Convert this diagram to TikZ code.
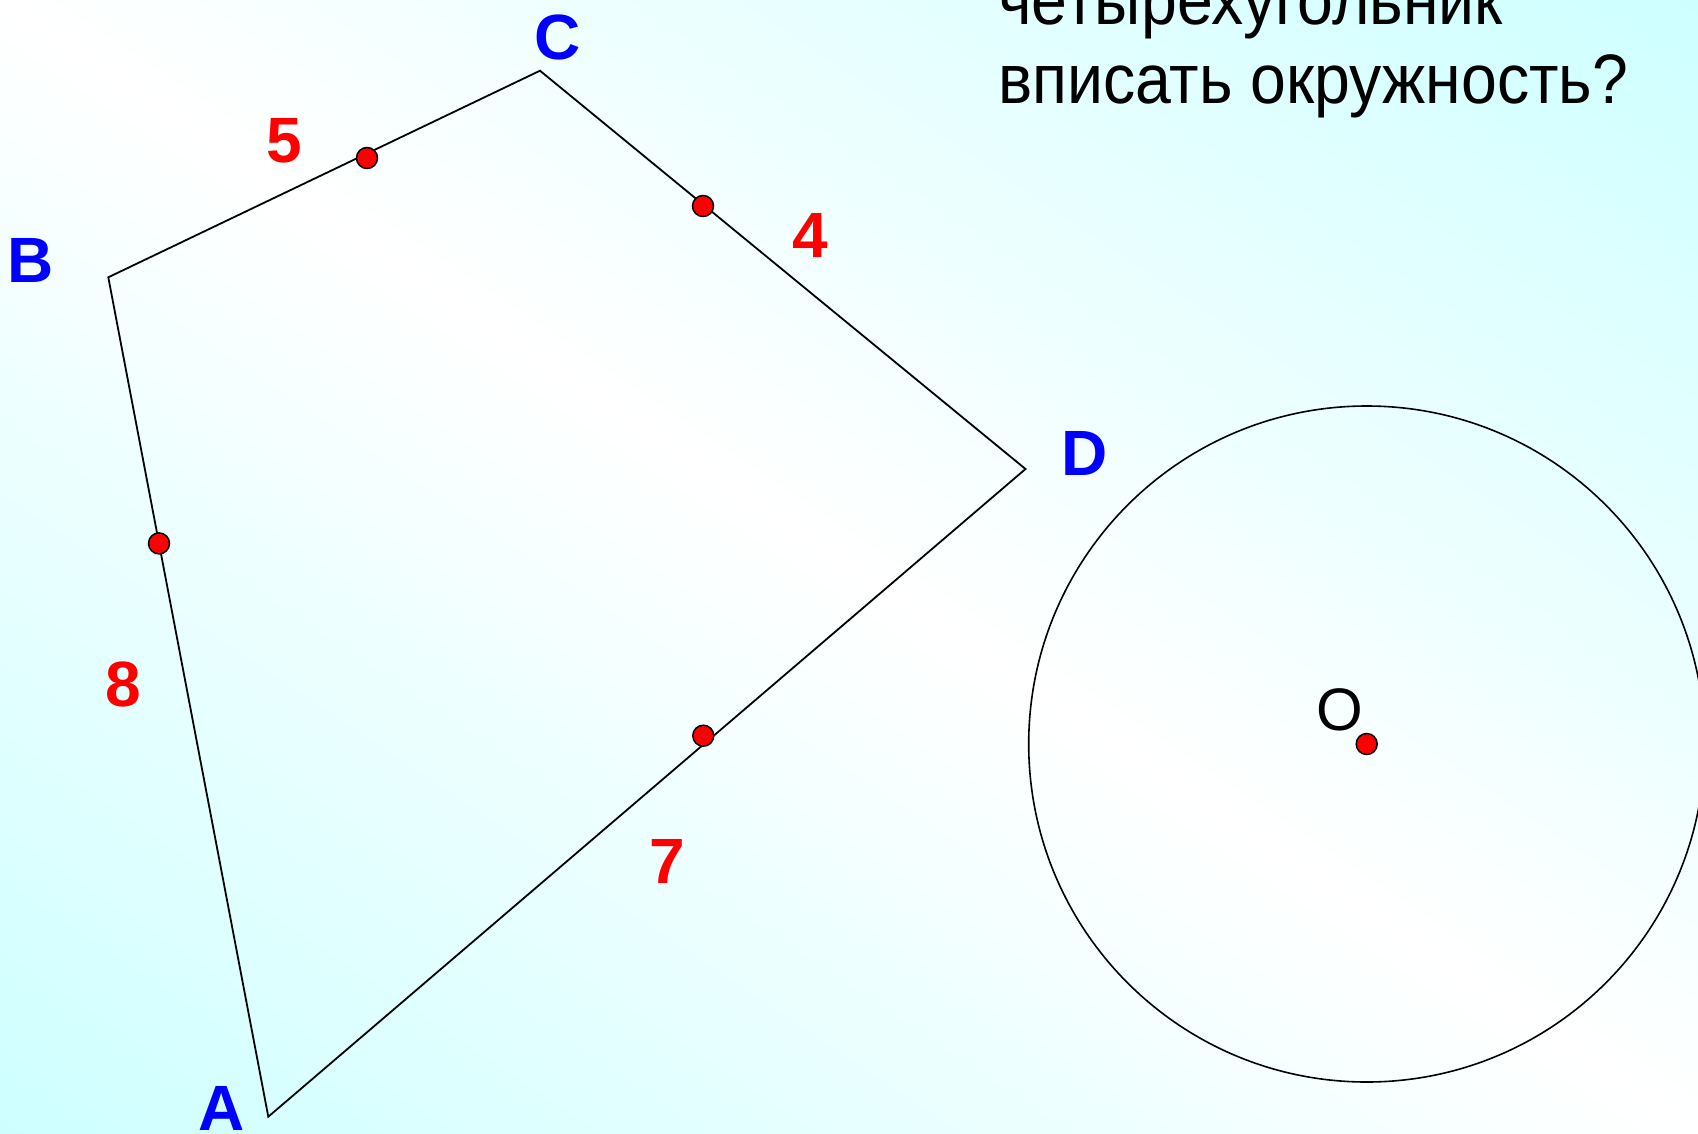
\documentclass[tikz,border=0pt]{standalone}
\usepackage{fontspec}
\usepackage{graphicx}
\setmainfont{Liberation Sans}
\usetikzlibrary{calc}
\definecolor{bgcyan}{RGB}{206,255,255}
\definecolor{lblblue}{RGB}{0,0,255}
\definecolor{numred}{RGB}{255,0,0}
\begin{document}
\begin{tikzpicture}[x=1pt,y=-1pt,
  edge/.style={line width=1.8pt, draw=black, line join=miter},
  bigfont/.style={font=\fontsize{64}{64}\selectfont\bfseries},
  vlabel/.style={bigfont, text=lblblue, inner sep=0pt},
  nlabel/.style={bigfont, text=numred, inner sep=0pt},
  olabel/.style={font=\fontsize{60}{60}\selectfont, text=black, inner sep=0pt},
  qtext/.style={font=\fontsize{70}{70}\selectfont, text=black, inner sep=0pt, anchor=base west},
  dot/.style={circle, fill=red, draw=black, line width=1.5pt, minimum size=21pt, inner sep=0pt}]
\useasboundingbox (0,0) rectangle (1698,1133);
\begin{scope}
\clip (0,0) rectangle (1698,1133);
% background: diagonal gradient cyan - white - cyan
\fill[bgcyan] (0,0) rectangle (1698,1133);
\foreach \i in {0,...,94}{
  \pgfmathsetmacro\s{-950+\i*20}
  \pgfmathsetmacro\m{min(100,abs(\s+10)/9.42)}
  \fill[bgcyan!\m!white]
    ({849+\s*0.555-1100*0.832},{566.5-\s*0.832-1100*0.555}) --
    ({849+\s*0.555+1100*0.832},{566.5-\s*0.832+1100*0.555}) --
    ({849+(\s+21)*0.555+1100*0.832},{566.5-(\s+21)*0.832+1100*0.555}) --
    ({849+(\s+21)*0.555-1100*0.832},{566.5-(\s+21)*0.832-1100*0.555}) -- cycle;
}
% quadrilateral
\coordinate (A) at (268.3,1116.7);
\coordinate (B) at (108.3,277.3);
\coordinate (C) at (540,70.7);
\coordinate (D) at (1025.5,469);
\draw[edge] (A) -- (B) -- (C) -- (D) -- cycle;
% circle
\coordinate (O) at (1366.7,744);
\draw[line width=1.6pt] (O) circle[radius=338];
% tangent points
\node[dot] (tAB) at ($(B)!0.317!(A)$) {};
\node[dot] (tBC) at (367,158) {};
\node[dot] (tCD) at (703,206) {};
\node[dot] (tAD) at (703.3,735.7) {};
\node[dot] (dO) at (O) {};
% vertex labels
\node[vlabel] (lA) at (222,1108) {A};
\node[vlabel] (lB) at (31,260) {B};
\node[vlabel] (lC) at (558,37) {C};
\node[vlabel] (lD) at (1085,453) {D};
% side lengths
\node[nlabel] (n5) at (284,141) {5};
\node[nlabel] (n4) at (810,235) {4};
\node[nlabel] (n8) at (123,684) {8};
\node[nlabel] (n7) at (667,861) {7};
\node[olabel] (lO) at (1339.5,709.5) {O};
% question text
\node[qtext] (q1) at (998,24) {\scalebox{0.92}[1]{четырехугольник}};
\node[qtext] (q2) at (998,103) {\scalebox{0.92}[1]{вписать окружность?}};
\end{scope}
\end{tikzpicture}
\end{document}
